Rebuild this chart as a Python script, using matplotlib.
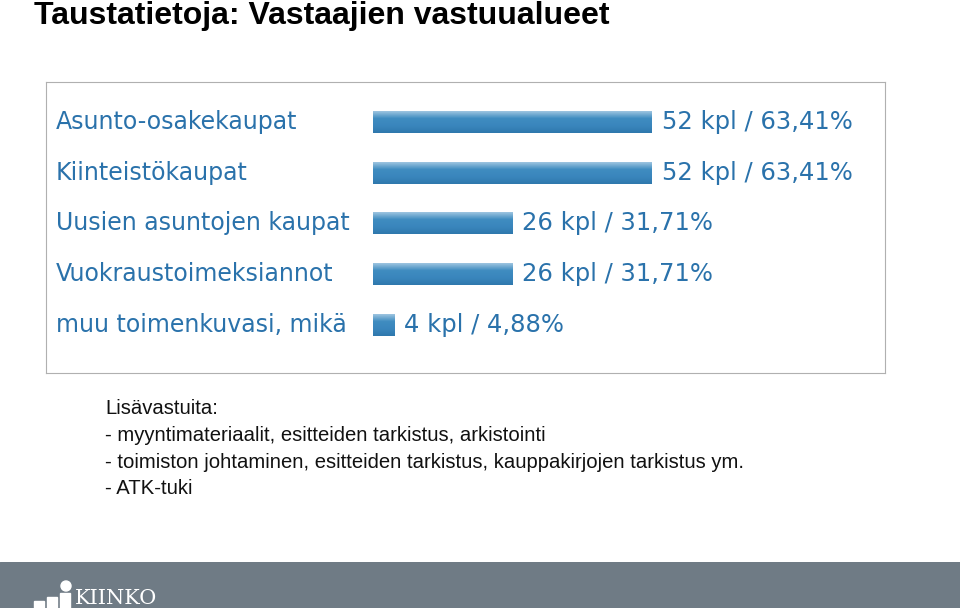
import matplotlib
matplotlib.use("Agg")
import matplotlib.pyplot as plt
from matplotlib.patches import Rectangle, Circle
import numpy as np

categories = ["Asunto-osakekaupat", "Kiinteistökaupat", "Uusien asuntojen kaupat",
              "Vuokraustoimeksiannot", "muu toimenkuvasi, mikä"]
counts = [52, 52, 26, 26, 4]
percents = ["63,41%", "63,41%", "31,71%", "31,71%", "4,88%"]
notes = ["Lisävastuita:",
         "- myyntimateriaalit, esitteiden tarkistus, arkistointi",
         "- toimiston johtaminen, esitteiden tarkistus, kauppakirjojen tarkistus ym.",
         "- ATK-tuki"]

W, H = 960, 608
fig = plt.figure(figsize=(9.6, 6.08), dpi=100)
fig.patch.set_facecolor("white")

fig.text(34/W, 1-16/H, "Taustatietoja: Vastaajien vastuualueet", fontsize=23,
         fontweight="bold", family="Liberation Sans", va="center", ha="left")

# chart box
x0, x1, y0, y1 = 46, 885, 82, 373
ax = fig.add_axes([x0/W, 1-y1/H, (x1-x0)/W, (y1-y0)/H])
scale = 279/52
for s in ax.spines.values():
    s.set_color("#b0b0b0")
ax.set_xticks([]); ax.set_yticks([])

bh = 22/50.75
grad = np.linspace(0, 1, 50).reshape(-1, 1)
cmap = matplotlib.colors.LinearSegmentedColormap.from_list(
    "g", ["#9cc4e0", "#3f8cc0", "#3a86bd", "#2f78ad"])
txtc = "#2a72ab"
for i, (c, v, p) in enumerate(zip(categories, counts, percents)):
    ax.imshow(grad, cmap=cmap, extent=[0, v, i+bh/2, i-bh/2], aspect="auto", zorder=2)
    ax.text((56-373)/scale, i, c, color=txtc, fontsize=17, va="center", ha="left",
            family="DejaVu Sans")
    ax.text(v + 10/scale, i, f"{v} kpl / {p}", color=txtc, fontsize=17.5,
            va="center", ha="left", family="DejaVu Sans")
ax.set_xlim((x0-373)/scale, (x1-373)/scale)
ax.set_ylim(4.95, -0.79)

for k, line in enumerate(notes):
    fig.text(105/W, 1-(409+k*26.5)/H, line, fontsize=14.6, family="Liberation Sans",
             va="center", ha="left", color="#111111")

# footer
fax = fig.add_axes([0, 0, 1, 46/H])
fax.set_xlim(0, W); fax.set_ylim(0, 46)
fax.axis("off")
fax.add_patch(Rectangle((0, 0), W, 46, color="#6f7b85"))
for bx, bht in [(34, 7), (47, 11), (60, 15)]:
    fax.add_patch(Rectangle((bx, 0), 10, bht, color="white"))
fax.add_patch(Circle((66, 22), 5, color="white"))
fax.text(75, 0, "KIINKO", color="white", fontsize=15, family="DejaVu Serif",
         va="bottom", ha="left")

fig.savefig("out.png", dpi=100)
